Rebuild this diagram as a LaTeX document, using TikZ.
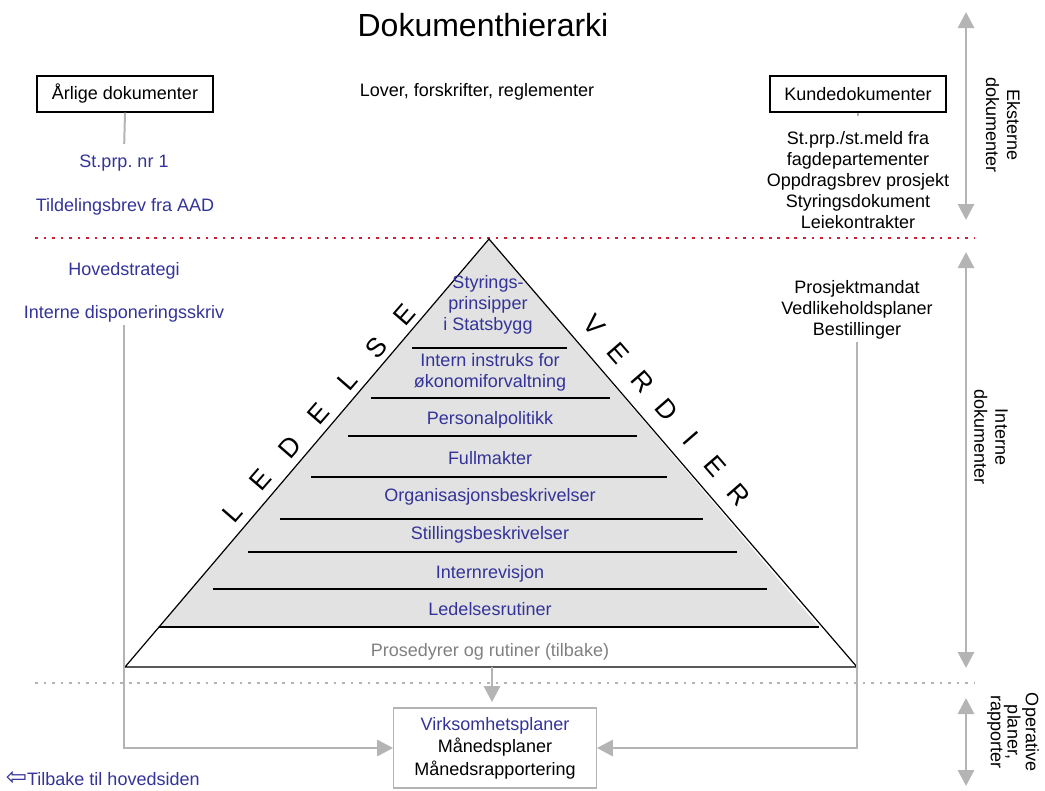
\documentclass[tikz,border=0pt]{standalone}
\usepackage{fontspec}
\setmainfont{Liberation Sans}
\newfontfamily\arrowfont{DejaVu Sans}
\usepackage{tikz}
\usetikzlibrary{arrows.meta, calc}
\definecolor{dBlue}  {HTML}{333399}
\definecolor{dGray}  {HTML}{B4B4B4}
\definecolor{dText}  {HTML}{808080}
\definecolor{dRed}   {HTML}{CC2233}
\definecolor{dFill}  {HTML}{E2E2E2}

\tikzset{
  txt/.style={font=\fontsize{13.5}{15.75}\selectfont, align=center, inner sep=2pt},
  btxt/.style={txt, text=dBlue},
  docbox/.style={txt, draw, line width=1pt, minimum width=132pt, minimum height=27pt},
  planbox/.style={txt, draw=dGray, line width=0.8pt, minimum width=152pt, minimum height=60pt,
                  font=\fontsize{13.5}{16.8}\selectfont},
  link/.style={draw=dGray, line width=1.5pt},
  garrow/.style={draw=dGray, line width=2.2pt, -{Triangle[length=12pt, width=12pt]}},
  gboth/.style={draw=dGray, line width=2.2pt,
                {Triangle[length=12pt, width=12pt]}-{Triangle[length=12pt, width=12pt]}},
  reddots/.style={dRed, line width=1.4pt, dash pattern=on 2pt off 4.4pt},
  graydots/.style={dGray, line width=1.4pt, dash pattern=on 2pt off 4.4pt},
  pyrletter/.style={font=\fontsize{20}{22}\selectfont, inner sep=0pt}
}

\begin{document}
\frenchspacing
\begin{tikzpicture}[x=0.75pt, y=-0.75pt]
    \useasboundingbox (0,0) rectangle (1045,790);

    % Title
    \node[txt, font=\fontsize{24}{28}\selectfont] (title) at (483,25) {Dokumenthierarki};

    % External documents
    \node[docbox] (aarlig) at (125,94) {Årlige dokumenter};
    \node[btxt] (stprp) at (124,163) {St.prp. nr 1};
    \node[btxt] (tildel) at (125,207) {Tildelingsbrev fra AAD};
    \node[txt] (lover) at (477,92) {Lover, forskrifter, reglementer};
    \node[docbox] (kunde) at (858,94) {Kundedokumenter};
    \node[txt] (kundetxt) at (858,180) {St.prp./st.meld fra\\fagdepartementer\\Oppdragsbrev prosjekt\\Styringsdokument\\Leiekontrakter};
    \draw[link, shorten >=6pt] (aarlig.south) -- (stprp.north);
    \draw[link, shorten >=9pt] (kunde.south) -- (kundetxt.north);

    % Separators
    \draw[reddots] (35,238) -- (975,238);
    \draw[graydots] (35,683) -- (975,683);

    % Internal documents
    \node[btxt] (hoved) at (124,271) {Hovedstrategi};
    \node[btxt] (disp) at (124,314) {Interne disponeringsskriv};
    \node[txt] (prosj) at (857,310) {Prosjektmandat\\Vedlikeholdsplaner\\Bestillinger};

    % Pyramid
    \coordinate (apex) at (489,239);
    \coordinate (bl) at (125,667);
    \coordinate (br) at (857,667);
    \fill[dFill] (apex) -- (159,627) -- (819,627) -- cycle;
    \draw[line width=0.9pt] (bl) -- (apex) -- (br) -- cycle;
    \foreach \y/\xl/\xr in {348/412/567, 398/371/610, 436/348/637, 477/311/667,
                            519/280/703, 552/248/737, 589/213/767, 627/159/819}{
      \draw[line width=0.9pt] (\xl,\y) -- (\xr,\y);
    }
    \node[btxt] (styr) at (488,305) {Styrings-\\prinsipper\\i Statsbygg};
    \node[btxt] (instr) at (490,372) {Intern instruks for\\økonomiforvaltning};
    \foreach \y/\t/\n in {420/Personalpolitikk/pers, 458/Fullmakter/full,
                          497/Organisasjonsbeskrivelser/org, 535/Stillingsbeskrivelser/still,
                          574/Internrevisjon/rev, 609/Ledelsesrutiner/led}{
      \node[btxt] (\n) at (490,\y) {\t};
    }
    \node[txt, text=dText] (prosed) at (490,652) {Prosedyrer og rutiner (tilbake)};

    % Side words
    \foreach \c [count=\i from 0] in {L,E,D,E,L,S,E}{
      \node[pyrletter, rotate=49] (ledl\i) at ({232+28.8*\i},{513-33*\i}) {\c};
    }
    \foreach \c [count=\i from 0] in {V,E,R,D,I,E,R}{
      \node[pyrletter, rotate=-49] (verl\i) at ({594+24.2*\i},{325+28.3*\i}) {\c};
    }

    % Operative plans
    \node[planbox] (plan) at (495,748) {\textcolor{dBlue}{Virksomhetsplaner}\\Månedsplaner\\Månedsrapportering};
    \coordinate (basemid) at (492,667);
    \draw[garrow, shorten >=4pt] (basemid) -- (basemid |- plan.north);
    \draw[garrow] (disp.south) |- (plan.west);
    \draw[garrow] (prosj.south) |- (plan.east);

    % Right hand scale
    \coordinate (e1) at (966,12);  \coordinate (e2) at (966,220);
    \coordinate (i1) at (966,252); \coordinate (i2) at (966,668);
    \coordinate (o1) at (966,698); \coordinate (o2) at (966,786);
    \draw[gboth] (e1) -- (e2);
    \draw[gboth] (i1) -- (i2);
    \draw[gboth] (o1) -- (o2);
    \node[txt, rotate=-90] (ekst) at (1003,125) {Eksterne\\dokumenter};
    \node[txt, rotate=-90] (intern) at (991,437) {Interne\\dokumenter};
    \node[txt, rotate=-90, font=\fontsize{13.5}{12.5}\selectfont] (oper) at (1013,732) {Operative\\planer,\\rapporter};

    % Back link
    \node[btxt, anchor=west] (back) at (3,778) {{\arrowfont\fontsize{19}{19}\selectfont ⇦}Tilbake til hovedsiden};
\end{tikzpicture}
\end{document}
